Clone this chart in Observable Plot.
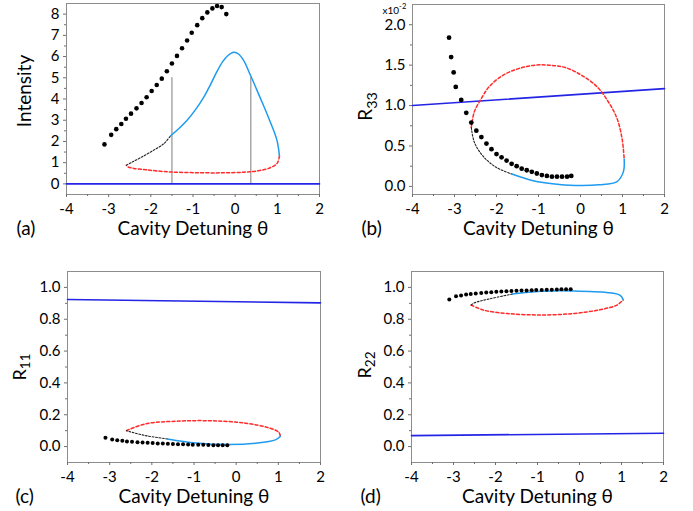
<!DOCTYPE html>
<html><head><meta charset="utf-8">
<script src="https://cdn.jsdelivr.net/npm/d3@7"></script>
<script src="https://cdn.jsdelivr.net/npm/@observablehq/plot@0.6"></script>
<style>
body{margin:0;background:#fff;}
#chart{position:relative;width:693px;height:511px;background:#fff;overflow:hidden;}
#chart svg{position:absolute;}
</style></head><body><div id="chart"></div>
<script>
// ---------- tick labels ----------
const xMajor = [-4, -3, -2, -1, 0, 1, 2];
const xMinor = [-3.5, -2.5, -1.5, -0.5, 0.5, 1.5];
const xLabel = "Cavity Detuning θ";

const yTicksA = [0, 1, 2, 3, 4, 5, 6, 7, 8];
const yMinorA = [0.5, 1.5, 2.5, 3.5, 4.5, 5.5, 6.5, 7.5];
const yTicksB = [0, 0.5, 1.0, 1.5, 2.0];
const yMinorB = [0.25, 0.75, 1.25, 1.75];
const yTicksCD = [0, 0.2, 0.4, 0.6, 0.8, 1.0];
const yMinorCD = [0.1, 0.3, 0.5, 0.7, 0.9];

// ---------- shared dot positions (panels a, c, d) ----------
const dotX = [-3.10,-2.94,-2.82,-2.70,-2.59,-2.47,-2.34,-2.22,-2.10,-1.98,-1.86,-1.74,-1.62,-1.50,-1.38,-1.26,-1.14,-1.03,-0.90,-0.78,-0.66,-0.54,-0.43,-0.32,-0.21];

// ---------- panel (a): Intensity ----------
const dotYA = [1.86,2.31,2.58,2.82,3.07,3.31,3.56,3.81,4.08,4.38,4.66,4.96,5.31,5.67,6.03,6.39,6.76,7.12,7.48,7.81,8.08,8.27,8.38,8.33,8.00];
const blueXA = [-1.53,-1.34,-1.14,-0.94,-0.74,-0.58,-0.43,-0.30,-0.17,-0.035,0.08,0.20,0.36,0.60,0.83,0.99,1.05];
const blueYA = [2.27,2.60,3.00,3.50,4.10,4.70,5.30,5.75,6.05,6.20,6.12,5.82,5.13,4.03,2.93,2.06,1.32];
const redXA = [1.05,1.00,0.83,0.55,0.20,-0.35,-1.00,-1.60,-2.10,-2.40,-2.54,-2.58];
const redYA = [1.32,0.98,0.76,0.62,0.55,0.52,0.53,0.57,0.66,0.73,0.80,0.88];
const blackXA = [-2.58,-2.45,-2.24,-1.93,-1.69,-1.53];
const blackYA = [0.88,1.02,1.24,1.59,1.90,2.27];
const hlineXA = [-4, 2];
const hlineYA = [0, 0];
const vlineXA = [-1.5, 0.37];
const vlineTopA = [5, 5];

// ---------- panel (b): R33 (x10^-2) ----------
const dotXB = [-3.13,-3.08,-3.02,-2.97,-2.84,-2.72,-2.60,-2.48,-2.36,-2.24,-2.12,-2.00,-1.88,-1.76,-1.64,-1.52,-1.40,-1.28,-1.16,-1.04,-0.92,-0.80,-0.68,-0.56,-0.44,-0.32,-0.22];
const dotYB = [1.84,1.60,1.41,1.23,1.07,0.91,0.79,0.69,0.61,0.53,0.46,0.40,0.36,0.32,0.28,0.25,0.22,0.20,0.18,0.16,0.14,0.13,0.12,0.12,0.12,0.12,0.13];
const redXB = [-2.60,-2.53,-2.37,-2.18,-1.86,-1.46,-1.07,-0.75,-0.36,0.04,0.40,0.67,0.87,0.99,1.04];
const redYB = [0.73,0.92,1.08,1.23,1.37,1.46,1.50,1.50,1.47,1.37,1.23,1.04,0.84,0.59,0.34];
const blueXB = [1.04,1.02,0.87,0.44,-0.12,-0.67,-1.15,-1.62];
const blueYB = [0.34,0.18,0.06,0.02,0.012,0.033,0.074,0.15];
const blackXB = [-1.62,-2.02,-2.33,-2.53,-2.60];
const blackYB = [0.15,0.24,0.38,0.55,0.73];
const hlineXB = [-4, 2];
const hlineYB = [1.0, 1.21];

// ---------- panel (c): R11 ----------
const dotYC = [0.055,0.044,0.040,0.036,0.032,0.030,0.028,0.026,0.024,0.022,0.020,0.019,0.018,0.016,0.015,0.014,0.013,0.012,0.011,0.011,0.010,0.009,0.009,0.008,0.008];
const redXC = [-2.60,-2.15,-1.36,-0.57,0.22,0.77,1.01,1.05];
const redYC = [0.100,0.143,0.160,0.162,0.147,0.118,0.090,0.065];
const blueXC = [1.05,0.93,0.46,-0.17,-0.96,-1.63];
const blueYC = [0.065,0.042,0.021,0.013,0.023,0.048];
const blackXC = [-1.63,-2.15,-2.54,-2.60];
const blackYC = [0.048,0.069,0.095,0.100];
const hlineXC = [-4, 2];
const hlineYC = [0.924, 0.903];

// ---------- panel (d): R22 ----------
const dotYD = [0.924,0.945,0.950,0.955,0.959,0.962,0.965,0.968,0.970,0.972,0.974,0.976,0.977,0.979,0.980,0.981,0.982,0.983,0.984,0.985,0.986,0.987,0.988,0.988,0.989];
const redXD = [-2.58,-2.28,-1.72,-0.93,-0.14,0.49,0.89,1.04];
const redYD = [0.889,0.857,0.836,0.827,0.836,0.860,0.889,0.922];
const blueXD = [1.04,0.97,0.65,-0.14,-0.93,-1.60];
const blueYD = [0.922,0.950,0.968,0.978,0.976,0.958];
const blackXD = [-1.60,-2.11,-2.50,-2.58];
const blackYD = [0.958,0.930,0.903,0.889];
const hlineXD = [-4, 2];
const hlineYD = [0.069, 0.084];

// ---------- styles ----------
const FRAME = "#8c8c8c";
const TICK = "#6e6e6e";
const CURVE_BLUE = "#1e9bf0";
const LINE_BLUE = "#2424e6";
const RED = "#ff2a2a";
const FONT = "Lato, 'Open Sans', 'DejaVu Sans', sans-serif";

const pts = (xs, ys) => xs.map((x, i) => ({x, y: ys[i]}));

function panel(c) {
  const marks = [
    Plot.frame({stroke: FRAME, strokeWidth: 1}),
    Plot.axisX({ticks: xMajor, tickSize: 3, tickPadding: 6, fontSize: 15, tickFormat: d => String(d), stroke: TICK, label: null}),
    Plot.axisX({ticks: xMinor, tickSize: 2, tickFormat: () => "", stroke: TICK, label: null}),
    Plot.axisY({ticks: c.yTicks, tickSize: 3, tickPadding: 4, fontSize: 15, tickFormat: c.yFmt, stroke: TICK, label: null}),
    Plot.axisY({ticks: c.yMinor, tickSize: 2, tickFormat: () => "", stroke: TICK, label: null}),
    ...(c.extra || []),
    Plot.line(pts(c.hx, c.hy), {x: "x", y: "y", stroke: LINE_BLUE, strokeWidth: 1.6}),
    Plot.line(pts(c.rx, c.ry), {x: "x", y: "y", curve: "catmull-rom", stroke: RED, strokeWidth: 1.5, strokeDasharray: "3,2.2"}),
    Plot.line(pts(c.kx, c.ky), {x: "x", y: "y", curve: "catmull-rom", stroke: "#222", strokeWidth: 1.1, strokeDasharray: "1.8,1.6"}),
    Plot.line(pts(c.bx, c.by), {x: "x", y: "y", curve: "catmull-rom", stroke: CURVE_BLUE, strokeWidth: 1.5}),
    Plot.dot(pts(c.dx, c.dy), {x: "x", y: "y", r: c.r, fill: "black", stroke: "none"}),
    Plot.text([c.letter], {text: d => d, frameAnchor: "bottom-left", textAnchor: "start", lineAnchor: "bottom", dx: c.letterDx, dy: 40, fontSize: 19}),
    Plot.text([xLabel], {text: d => d, frameAnchor: "bottom", textAnchor: "middle", lineAnchor: "bottom", dy: 40, fontSize: 19}),
    Plot.text([c.ylabel], {text: d => d, frameAnchor: "left", textAnchor: "middle", rotate: -90, lineAnchor: "bottom", dx: c.ylDx, dy: c.ylDy, fontSize: c.ylSize || 19}),
    ...(c.extraText || [])
  ];
  const svg = Plot.plot({
    width: c.width, height: c.height,
    marginLeft: c.m[0], marginRight: c.m[1], marginTop: c.m[2], marginBottom: c.m[3],
    x: {domain: [-4, 2], label: null},
    y: {domain: c.yDomain, label: null},
    style: {fontFamily: FONT, fontSize: "14px", color: "black", background: "transparent", overflow: "visible"},
    marks
  });
  // drop the empty labels of the minor tick axes
  d3.select(svg).selectAll("text").filter(function () { return this.textContent === ""; }).remove();
  svg.style.left = c.left + "px";
  svg.style.top = c.top + "px";
  return svg;
}

function richText(svg, full, parts) {
  d3.select(svg).selectAll("text").filter(function () { return this.textContent === full; }).each(function () {
    const t = d3.select(this);
    t.text(null);
    parts.forEach(p => {
      const s = t.append("tspan").text(p.t);
      if (p.size) s.style("font-size", p.size);
      if (p.dy) s.attr("dy", p.dy);
    });
  });
}

const chart = document.getElementById("chart");
const f1 = d3.format(".1f");

const A = panel({
  left: 0, top: 0, width: 346, height: 255, m: [66, 27, 3, 61],
  yDomain: [-0.5, 8.5], yTicks: yTicksA, yMinor: yMinorA, yFmt: d => String(d),
  hx: hlineXA, hy: hlineYA, rx: redXA, ry: redYA, kx: blackXA, ky: blackYA, bx: blueXA, by: blueYA,
  dx: dotX, dy: dotYA, r: 2.3,
  letter: "(a)", letterDx: -50, ylabel: "Intensity", ylDx: -36, ylDy: -8,
  extra: [Plot.ruleX(vlineXA.map((x, i) => ({x, top: vlineTopA[i]})), {x: "x", y1: 0, y2: "top", stroke: "#a8a8a8", strokeWidth: 1.5})]
});
const B = panel({
  left: 346, top: 0, width: 347, height: 255, m: [66, 29, 4, 61],
  yDomain: [-0.1, 2.25], yTicks: yTicksB, yMinor: yMinorB, yFmt: f1,
  hx: hlineXB, hy: hlineYB, rx: redXB, ry: redYB, kx: blackXB, ky: blackYB, bx: blueXB, by: blueYB,
  dx: dotXB, dy: dotYB, r: 2.4,
  letter: "(b)", letterDx: -51, ylabel: "R33", ylDx: -41, ylDy: 7, ylSize: 19,
  extraText: [Plot.text(["x10-2"], {text: d => d, frameAnchor: "top-left", textAnchor: "start", lineAnchor: "bottom", dx: -30, dy: 9, fontSize: 10})]
});
const C = panel({
  left: 0, top: 255, width: 346, height: 256, m: [67, 26, 16, 49],
  yDomain: [-0.1, 1.1], yTicks: yTicksCD, yMinor: yMinorCD, yFmt: f1,
  hx: hlineXC, hy: hlineYC, rx: redXC, ry: redYC, kx: blackXC, ky: blackYC, bx: blueXC, by: blueYC,
  dx: dotX, dy: dotYC, r: 2.0,
  letter: "(c)", letterDx: -52, ylabel: "R11", ylDx: -42, ylDy: 0, ylSize: 18
});
const D = panel({
  left: 346, top: 255, width: 347, height: 256, m: [65, 30, 16, 49],
  yDomain: [-0.1, 1.1], yTicks: yTicksCD, yMinor: yMinorCD, yFmt: f1,
  hx: hlineXD, hy: hlineYD, rx: redXD, ry: redYD, kx: blackXD, ky: blackYD, bx: blueXD, by: blueYD,
  dx: dotX, dy: dotYD, r: 2.0,
  letter: "(d)", letterDx: -51, ylabel: "R22", ylDx: -41, ylDy: -2, ylSize: 18
});

richText(B, "R33", [{t: "R"}, {t: "33", size: "0.75em", dy: "0.35em"}]);
richText(C, "R11", [{t: "R"}, {t: "11", size: "0.75em", dy: "0.35em"}]);
richText(D, "R22", [{t: "R"}, {t: "22", size: "0.75em", dy: "0.35em"}]);
richText(B, "x10-2", [{t: "x10"}, {t: "-2", size: "0.75em", dy: "-0.55em"}]);

[A, B, C, D].forEach(s => chart.appendChild(s));
</script>
</body></html>
